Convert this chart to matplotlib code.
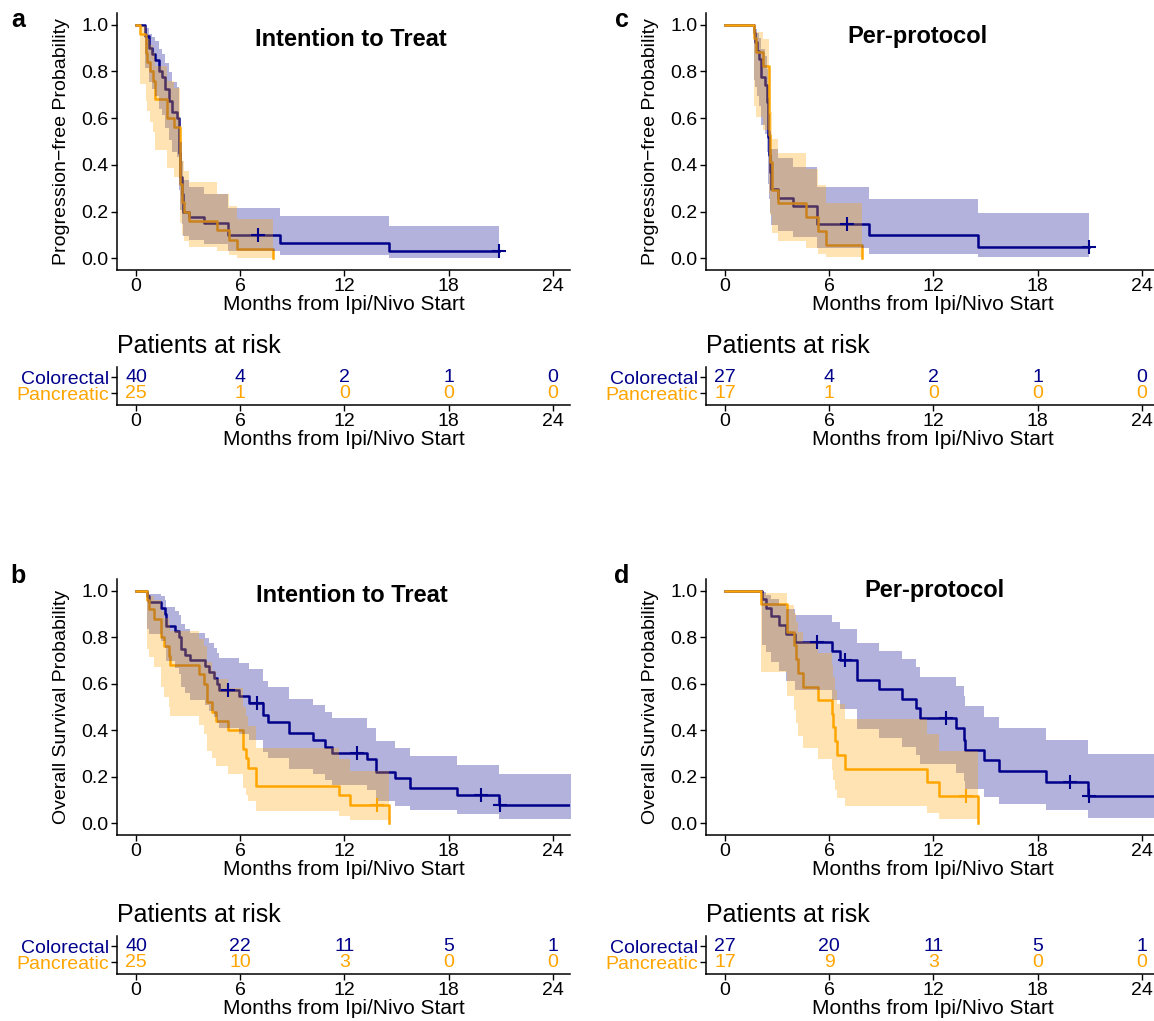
import numpy as np
import matplotlib
matplotlib.use("Agg")
import matplotlib.pyplot as plt

plt.rcParams['font.family'] = ['Liberation Sans', 'DejaVu Sans']

# ---------------- data (months, survival, 95% CI) ----------------
# a: progression-free, intention to treat
pfs_itt_crc_t = [0, 0.54, 0.73, 0.92, 1.11, 1.30, 1.49, 1.69, 1.88, 2.07, 2.36, 2.49, 2.55, 2.64, 2.70, 3.03, 3.89, 5.29, 8.30, 14.60]
pfs_itt_crc_s = [1.0, 0.95, 0.90, 0.875, 0.85, 0.80, 0.775, 0.725, 0.675, 0.625, 0.60, 0.45, 0.35, 0.275, 0.20, 0.175, 0.15, 0.10, 0.067, 0.033]
pfs_itt_crc_lo = [1.0, 0.814, 0.755, 0.725, 0.696, 0.640, 0.612, 0.559, 0.507, 0.457, 0.433, 0.293, 0.208, 0.149, 0.094, 0.077, 0.061, 0.032, 0.014, 0.003]
pfs_itt_crc_hi = [1.0, 0.987, 0.961, 0.946, 0.930, 0.894, 0.876, 0.837, 0.797, 0.754, 0.732, 0.594, 0.496, 0.417, 0.335, 0.305, 0.276, 0.215, 0.180, 0.139]
pfs_itt_crc_cens = [7.0, 20.9]
pfs_itt_crc_end = 20.9

pfs_itt_pan_t = [0, 0.21, 0.57, 0.65, 0.82, 1.00, 1.11, 1.78, 2.16, 2.55, 2.62, 2.74, 3.03, 4.66, 5.33, 5.80, 7.87]
pfs_itt_pan_s = [1.0, 0.96, 0.88, 0.84, 0.80, 0.76, 0.68, 0.60, 0.56, 0.32, 0.24, 0.20, 0.16, 0.12, 0.08, 0.04, 0.0]
pfs_itt_pan_lo = [1.0, 0.748, 0.673, 0.629, 0.584, 0.542, 0.462, 0.385, 0.348, 0.152, 0.098, 0.073, 0.050, 0.030, 0.014, 0.003, 0.0]
pfs_itt_pan_hi = [1.0, 0.994, 0.960, 0.937, 0.912, 0.884, 0.825, 0.761, 0.727, 0.501, 0.417, 0.373, 0.325, 0.277, 0.224, 0.170, 0.0]
pfs_itt_pan_cens = []
pfs_itt_pan_end = 7.87

# c: progression-free, per-protocol
pfs_pp_crc_t = [0, 1.69, 1.75, 1.85, 1.95, 2.05, 2.30, 2.40, 2.45, 2.50, 2.53, 2.56, 2.64, 3.03, 3.89, 5.29, 8.30, 14.57]
pfs_pp_crc_s = [1.0, 0.963, 0.926, 0.889, 0.852, 0.778, 0.741, 0.667, 0.593, 0.519, 0.444, 0.370, 0.296, 0.259, 0.222, 0.148, 0.099, 0.049]
pfs_pp_crc_lo = [1.0, 0.765, 0.735, 0.694, 0.653, 0.571, 0.533, 0.457, 0.386, 0.319, 0.256, 0.196, 0.141, 0.115, 0.090, 0.046, 0.020, 0.004]
pfs_pp_crc_hi = [1.0, 0.995, 0.981, 0.963, 0.942, 0.894, 0.867, 0.811, 0.750, 0.686, 0.617, 0.546, 0.470, 0.430, 0.390, 0.304, 0.253, 0.194]
pfs_pp_crc_cens = [7.0, 20.94]
pfs_pp_crc_end = 20.94

pfs_pp_pan_t = [0, 1.69, 1.78, 2.16, 2.52, 2.55, 2.60, 2.68, 3.03, 4.66, 5.33, 5.80, 7.87]
pfs_pp_pan_s = [1.0, 0.941, 0.882, 0.824, 0.647, 0.529, 0.412, 0.294, 0.235, 0.176, 0.118, 0.059, 0.0]
pfs_pp_pan_lo = [1.0, 0.650, 0.606, 0.548, 0.377, 0.276, 0.185, 0.107, 0.073, 0.043, 0.020, 0.004, 0.0]
pfs_pp_pan_hi = [1.0, 0.991, 0.969, 0.939, 0.823, 0.730, 0.627, 0.512, 0.449, 0.382, 0.313, 0.236, 0.0]
pfs_pp_pan_cens = []
pfs_pp_pan_end = 7.87

# b: overall survival, intention to treat
os_itt_crc_t = [0, 0.64, 0.75, 1.45, 1.65, 1.75, 2.25, 2.50, 2.60, 2.80, 3.10, 3.95, 4.20, 4.50, 4.65, 4.75, 5.95, 6.50, 7.30, 7.60, 8.80, 10.20, 10.90, 11.30, 13.30, 13.80, 14.90, 15.80, 18.50, 20.90]
os_itt_crc_s = [1.0, 0.975, 0.95, 0.925, 0.90, 0.85, 0.825, 0.80, 0.75, 0.725, 0.70, 0.675, 0.65, 0.625, 0.60, 0.575, 0.548, 0.517, 0.467, 0.437, 0.387, 0.357, 0.326, 0.304, 0.276, 0.221, 0.193, 0.152, 0.122, 0.081]
os_itt_crc_lo = [1.0, 0.835, 0.814, 0.785, 0.755, 0.696, 0.668, 0.640, 0.586, 0.559, 0.532, 0.507, 0.483, 0.457, 0.433, 0.408, 0.383, 0.359, 0.307, 0.282, 0.234, 0.211, 0.188, 0.166, 0.142, 0.097, 0.076, 0.057, 0.039, 0.017]
os_itt_crc_hi = [1.0, 0.996, 0.987, 0.975, 0.961, 0.930, 0.912, 0.894, 0.857, 0.837, 0.817, 0.797, 0.775, 0.754, 0.732, 0.711, 0.687, 0.664, 0.613, 0.587, 0.534, 0.507, 0.479, 0.451, 0.410, 0.356, 0.322, 0.288, 0.252, 0.210]
os_itt_crc_cens = [5.3, 6.97, 12.7, 19.85, 20.95]
os_itt_crc_end = 26.0

os_itt_pan_t = [0, 0.64, 0.73, 1.02, 1.41, 1.60, 1.89, 1.95, 3.63, 3.92, 4.11, 4.40, 4.59, 5.27, 6.14, 6.33, 6.43, 6.91, 11.70, 12.30, 14.60]
os_itt_pan_s = [1.0, 0.96, 0.92, 0.88, 0.80, 0.76, 0.72, 0.68, 0.64, 0.60, 0.52, 0.48, 0.44, 0.40, 0.32, 0.28, 0.24, 0.16, 0.12, 0.08, 0.0]
os_itt_pan_lo = [1.0, 0.748, 0.716, 0.673, 0.584, 0.542, 0.500, 0.462, 0.423, 0.385, 0.312, 0.279, 0.245, 0.213, 0.152, 0.124, 0.098, 0.055, 0.030, 0.014, 0.0]
os_itt_pan_hi = [1.0, 0.994, 0.979, 0.960, 0.912, 0.884, 0.855, 0.825, 0.794, 0.761, 0.693, 0.656, 0.619, 0.582, 0.501, 0.460, 0.417, 0.325, 0.277, 0.224, 0.0]
os_itt_pan_cens = [13.9]
os_itt_pan_end = 14.6

# d: overall survival, per-protocol
os_pp_crc_t = [0, 2.12, 2.37, 2.66, 3.10, 3.50, 4.00, 6.14, 6.60, 7.59, 8.84, 10.19, 11.00, 11.25, 13.28, 13.76, 13.85, 14.90, 15.80, 18.50, 20.90]
os_pp_crc_s = [1.0, 0.963, 0.926, 0.889, 0.852, 0.815, 0.778, 0.741, 0.703, 0.617, 0.577, 0.535, 0.494, 0.452, 0.409, 0.359, 0.316, 0.272, 0.227, 0.179, 0.118]
os_pp_crc_lo = [1.0, 0.765, 0.735, 0.694, 0.653, 0.611, 0.571, 0.529, 0.490, 0.405, 0.367, 0.328, 0.292, 0.256, 0.217, 0.180, 0.146, 0.114, 0.085, 0.058, 0.025]
os_pp_crc_hi = [1.0, 0.995, 0.981, 0.963, 0.942, 0.919, 0.894, 0.866, 0.837, 0.774, 0.740, 0.705, 0.670, 0.631, 0.591, 0.547, 0.503, 0.457, 0.409, 0.358, 0.300]
os_pp_crc_cens = [5.27, 6.9, 12.7, 19.85, 20.95]
os_pp_crc_end = 26.0

os_pp_pan_t = [0, 2.05, 3.59, 3.98, 4.11, 4.21, 4.50, 5.37, 6.14, 6.24, 6.33, 6.43, 6.91, 11.65, 12.30, 14.60]
os_pp_pan_s = [1.0, 0.941, 0.824, 0.765, 0.706, 0.647, 0.588, 0.529, 0.471, 0.412, 0.353, 0.294, 0.235, 0.176, 0.118, 0.0]
os_pp_pan_lo = [1.0, 0.650, 0.548, 0.489, 0.431, 0.377, 0.325, 0.276, 0.229, 0.185, 0.145, 0.107, 0.073, 0.043, 0.020, 0.0]
os_pp_pan_hi = [1.0, 0.991, 0.939, 0.905, 0.866, 0.823, 0.778, 0.730, 0.680, 0.627, 0.571, 0.512, 0.449, 0.382, 0.313, 0.0]
os_pp_pan_cens = [13.9]
os_pp_pan_end = 14.6

# numbers at risk at 0, 6, 12, 18, 24 months
risk_times = [0, 6, 12, 18, 24]
risk_a_crc = [40, 4, 2, 1, 0]
risk_a_pan = [25, 1, 0, 0, 0]
risk_c_crc = [27, 4, 2, 1, 0]
risk_c_pan = [17, 1, 0, 0, 0]
risk_b_crc = [40, 22, 11, 5, 1]
risk_b_pan = [25, 10, 3, 0, 0]
risk_d_crc = [27, 20, 11, 5, 1]
risk_d_pan = [17, 9, 3, 0, 0]

group_names = ['Colorectal', 'Pancreatic']
x_ticks = [0, 6, 12, 18, 24]
y_ticks = [0.0, 0.2, 0.4, 0.6, 0.8, 1.0]
x_label = 'Months from Ipi/Nivo Start'

NAVY = '#00008B'
ORANGE = '#FFA500'

# ---------------- layout helpers ----------------
W, H = 1154, 1021
fig = plt.figure(figsize=(W / 100, H / 100), dpi=100)


def px_axes(left, top, right, bottom):
    return fig.add_axes([left / W, 1 - bottom / H, (right - left) / W, (bottom - top) / H])


def style_axes(ax):
    for side in ['top', 'right']:
        ax.spines[side].set_visible(False)
    for side in ['left', 'bottom']:
        ax.spines[side].set_linewidth(1.1)
    ax.tick_params(direction='out', length=4, width=1.0, labelsize=14, pad=2, colors='black')
    ax.set_xlim(-1.1, 25.0)
    ax.set_xticks(x_ticks)


def km_panel(ax, curves, ylabel):
    style_axes(ax)
    ax.set_ylim(-0.05, 1.05)
    ax.set_yticks(y_ticks)
    ax.set_yticklabels([f'{v:.1f}' for v in y_ticks])
    # lines first, then ribbons over them (as in survminer)
    for t, s, lo, hi, end, cens, col in curves:
        tt = np.append(t, end)
        ax.step(tt, np.append(s, s[-1]), where='post', color=col, lw=1.8, zorder=2)
    for t, s, lo, hi, end, cens, col in curves:
        tt = np.append(t, end)
        ax.fill_between(tt, np.append(lo, lo[-1]), np.append(hi, hi[-1]), step='post',
                        color=col, alpha=0.3, lw=0, zorder=3)
    for t, s, lo, hi, end, cens, col in curves:
        if len(cens):
            idx = np.searchsorted(t, cens, side='right') - 1
            ax.plot(cens, np.array(s)[idx], ls='none', marker='+', ms=10, mew=1.5, color=col, zorder=4)
    ax.set_ylabel(ylabel, fontsize=14, labelpad=8)
    ax.set_xlabel(x_label, fontsize=15, labelpad=0)


def risk_table(ax, crc, pan):
    style_axes(ax)
    ax.set_ylim(0.25, 2.625)
    ax.set_yticks([2, 1])
    ax.set_yticklabels(group_names, fontsize=14)
    for lab, col in zip(ax.get_yticklabels(), [NAVY, ORANGE]):
        lab.set_color(col)
    for x, n1, n2 in zip(risk_times, crc, pan):
        ax.text(x, 2, str(n1), ha='center', va='center', color=NAVY, fontsize=14)
        ax.text(x, 1, str(n2), ha='center', va='center', color=ORANGE, fontsize=14)
    ax.set_xlabel(x_label, fontsize=15, labelpad=0)


panels = [
    # letter, letter px, title, title px, main box, table box, curves, ylabel, risk rows
    ('a', (18, 20), 'Intention to Treat', (351, 46), (117, 13, 570, 270), (117, 367, 570, 405),
     [(pfs_itt_crc_t, pfs_itt_crc_s, pfs_itt_crc_lo, pfs_itt_crc_hi, pfs_itt_crc_end, pfs_itt_crc_cens, NAVY),
      (pfs_itt_pan_t, pfs_itt_pan_s, pfs_itt_pan_lo, pfs_itt_pan_hi, pfs_itt_pan_end, pfs_itt_pan_cens, ORANGE)],
     'Progression\u2212free Probability', risk_a_crc, risk_a_pan),
    ('c', (622, 20), 'Per-protocol', (917, 43), (706, 13, 1159, 270), (706, 367, 1159, 405),
     [(pfs_pp_crc_t, pfs_pp_crc_s, pfs_pp_crc_lo, pfs_pp_crc_hi, pfs_pp_crc_end, pfs_pp_crc_cens, NAVY),
      (pfs_pp_pan_t, pfs_pp_pan_s, pfs_pp_pan_lo, pfs_pp_pan_hi, pfs_pp_pan_end, pfs_pp_pan_cens, ORANGE)],
     'Progression\u2212free Probability', risk_c_crc, risk_c_pan),
    ('b', (18, 576), 'Intention to Treat', (352, 602), (117, 579, 570, 835), (117, 936, 570, 974),
     [(os_itt_crc_t, os_itt_crc_s, os_itt_crc_lo, os_itt_crc_hi, os_itt_crc_end, os_itt_crc_cens, NAVY),
      (os_itt_pan_t, os_itt_pan_s, os_itt_pan_lo, os_itt_pan_hi, os_itt_pan_end, os_itt_pan_cens, ORANGE)],
     'Overall Survival Probability', risk_b_crc, risk_b_pan),
    ('d', (622, 576), 'Per-protocol', (934, 597), (706, 579, 1159, 835), (706, 936, 1159, 974),
     [(os_pp_crc_t, os_pp_crc_s, os_pp_crc_lo, os_pp_crc_hi, os_pp_crc_end, os_pp_crc_cens, NAVY),
      (os_pp_pan_t, os_pp_pan_s, os_pp_pan_lo, os_pp_pan_hi, os_pp_pan_end, os_pp_pan_cens, ORANGE)],
     'Overall Survival Probability', risk_d_crc, risk_d_pan),
]

for letter, (lx, ly), title, (tx, ty), main_box, tab_box, curves, ylabel, r_crc, r_pan in panels:
    ax = px_axes(*main_box)
    km_panel(ax, curves, ylabel)
    fig.text(tx / W, 1 - ty / H, title, ha='center', va='baseline', fontsize=17, fontweight='bold')
    fig.text(lx / W, 1 - ly / H, letter, ha='center', va='center', fontsize=18, fontweight='bold')

    tab = px_axes(*tab_box)
    risk_table(tab, r_crc, r_pan)
    fig.text(tab_box[0] / W, 1 - (tab_box[1] - 21) / H, 'Patients at risk', ha='left', va='center', fontsize=18)

fig.savefig('out.png', dpi=100)
